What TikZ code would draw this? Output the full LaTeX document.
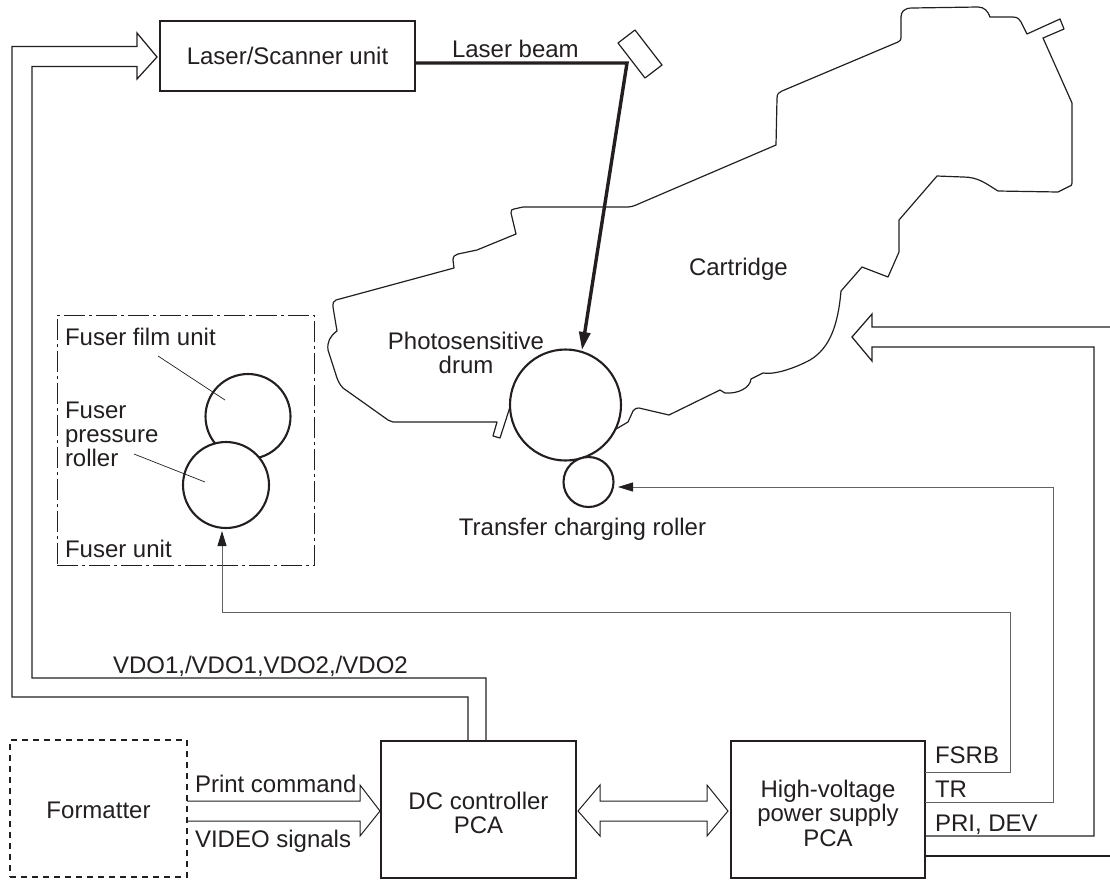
\documentclass[tikz,border=0pt]{standalone}
\usepackage{fontspec}
\setmainfont{Liberation Sans}
\usetikzlibrary{arrows.meta}
\definecolor{ink}{HTML}{231F20}
\newcommand{\dropby}[2]{\raisebox{-#1pt}[\height][\depth]{\begin{tabular}{@{}c@{}}#2\end{tabular}}}
\tikzset{
  lab/.style={inner sep=0pt,outer sep=0pt,text=ink,font=\fontsize{24}{24.3}\selectfont,align=center},
  blockbox/.style={lab,draw=ink,line width=2.1pt},
  thinline/.style={draw=ink!70,line width=1pt},
  holl/.style={draw=ink,line width=1.25pt,line join=miter},
  carto/.style={draw=ink,line width=1.2pt,line join=round},
  roller/.style={draw=ink,line width=2.1pt,fill=white},
  lead/.style={draw=ink,line width=0.7pt},
  tip/.style={-{Triangle[length=15pt,width=9pt,color=ink]}}
}
\begin{document}
\begin{tikzpicture}[x=1pt,y=-1pt]
\useasboundingbox (0,0) rectangle (1110,879);
% blocks
\node[blockbox,minimum width=255pt,minimum height=69.5pt] (laser) at (287.5,56) {\dropby{3}{Laser/Scanner unit}};
\node[blockbox,minimum width=195pt,minimum height=137.5pt] (dc) at (478.5,809.5) {\dropby{7}{DC controller\\PCA}};
\node[blockbox,minimum width=194pt,minimum height=137.5pt] (hv) at (828,809.5) {\dropby{7}{High-voltage\\power supply\\PCA}};
\node[lab,draw=ink,line width=1.7pt,dash pattern=on 6pt off 5pt,minimum width=177pt,minimum height=137pt] (fmt) at (98.5,808.5) {\dropby{5}{Formatter}};
\node[lab,draw=ink,line width=1pt,dash pattern=on 21pt off 4pt on 3pt off 4pt,minimum width=257pt,minimum height=250pt] (fuser) at (185.5,440) {};
% cartridge contour
\coordinate (drumL) at (510,407);
\coordinate (drumR) at (616,429);
\draw[carto] (drumL) -- (500,438) -- (493,436) -- (497,422) -- (393,422) -- (388,420) -- (343,388)
  .. controls (339,384) and (338,380) .. (337,378) -- (328,350) .. controls (327,342) and (330,336) .. (337,331)
  -- (333,307) .. controls (333,303) and (333,301) .. (336,300) -- (454,268) -- (453,260)
  .. controls (453,256) and (455,255) .. (458,254) -- (477,250) -- (516,234) -- (511,213)
  .. controls (511,210) and (512,209) .. (514,209) -- (523,207) -- (628,207) .. controls (633,207) and (638,204) .. (643,202)
  -- (776,145) -- (777,98) .. controls (777,94) and (779,92) .. (782,91) -- (898,42) .. controls (900,41) and (901,40) .. (901,38)
  -- (901,17) .. controls (901,12) and (904,8) .. (912,8) -- (978,7) .. controls (984,7) and (988,11) .. (990,17)
  -- (1013,17) .. controls (1018,17) and (1020,20) .. (1021,22) -- (1027,34) -- (1060,19) -- (1064,29) -- (1043,38)
  -- (1072,103) -- (1072,183) .. controls (1072,185) and (1071,186) .. (1070,186) -- (1058,192) -- (998,191)
  .. controls (985,183) and (978,177) .. (963,177) -- (937,176) -- (899,220) -- (899,252) -- (888,277) -- (862,267) -- (841,291)
  .. controls (838,325) and (830,348) .. (810,360) .. controls (795,368) and (775,375) .. (763,373)
  -- (751,379) .. controls (750,388) and (738,394) .. (725,393) -- (720,390) -- (669,415) -- (639,408)
  .. controls (635,408) and (634,410) .. (633,411) -- (628,422) -- (drumR);
\draw[carto] (618,43) -- (635,30) -- (662,65) -- (645,78) -- cycle;
% rollers
\node[roller,circle,minimum size=111pt,inner sep=0pt] (drum) at (565.5,405) {};
\node[roller,circle,minimum size=50pt,inner sep=0pt] (trans) at (588.5,482) {};
\node[roller,circle,minimum size=85pt,inner sep=0pt] (film) at (248,416.5) {};
\node[roller,circle,minimum size=86pt,inner sep=0pt] (press) at (226,485) {};
\draw[lead] (158,356) -- (225,400);
\draw[lead] (134,454) -- (205,482);
% laser beam
\coordinate (mirror) at (627,63);
\draw[draw=ink,line width=3.4pt,line join=miter,-{Triangle[length=18pt,width=11pt]}] (laser.east) ++(0,7) -- (mirror) -- (582,350);
% hollow arrows
\draw[holl] (468,740) -- (468,697) -- (12,697) -- (12,46.5) -- (137,46.5) -- (137,33) -- (157,57) -- (137,79) -- (137,66.5) -- (32,66.5) -- (32,678) -- (486,678) -- (486,740);
\draw[holl,line width=1pt] (187,801) -- (360,801) -- (360,785) -- (380,811) -- (360,836) -- (360,821) -- (187,821);
\draw[holl,line width=1pt] (600,801) -- (707,801) -- (707,785) -- (728,811) -- (707,836) -- (707,821) -- (600,821) -- (600,836) -- (578,811) -- (600,785) -- cycle;
\draw[holl] (925,836) -- (1094,836) -- (1094,347) -- (872,347) -- (872,361) -- (852,337) -- (872,314) -- (872,327) -- (1110,327);
\draw[holl] (925,856) -- (1110,856);
% signal lines
\draw[thinline,tip] (925,772) -- (1010,772) -- (1010,612) -- (222,612) -- (222,531);
\draw[thinline,tip] (925,802) -- (1053,802) -- (1053,487) -- (618,487);
% labels
\node[lab,anchor=base west] (lbeam) at (452,57) {Laser beam};
\node[lab,anchor=base west] (lcart) at (689,275) {Cartridge};
\node[lab] (lphoto) at (466,353) {Photosensitive\\drum};
\node[lab,anchor=base] (ltrans) at (582.5,535) {Transfer charging roller};
\node[lab,anchor=base west] (lff) at (65,345) {Fuser film unit};
\node[lab,anchor=base west] (lfp1) at (65,418) {Fuser};
\node[lab,anchor=base west] (lfp2) at (65,442) {pressure};
\node[lab,anchor=base west] (lfp3) at (65,466) {roller};
\node[lab,anchor=base west] (lfu) at (65,557) {Fuser unit};
\node[lab,anchor=base west] (lvdo) at (113,673) {VDO1,/VDO1,VDO2,/VDO2};
\node[lab,anchor=base west] (lpc) at (195,792) {Print command};
\node[lab,anchor=base west] (lvs) at (195,847) {VIDEO signals};
\node[lab,anchor=base west] (lfsrb) at (935,763) {FSRB};
\node[lab,anchor=base west] (ltr) at (935,797) {TR};
\node[lab,anchor=base west] (lpri) at (935,831) {PRI, DEV};
\end{tikzpicture}
\end{document}
